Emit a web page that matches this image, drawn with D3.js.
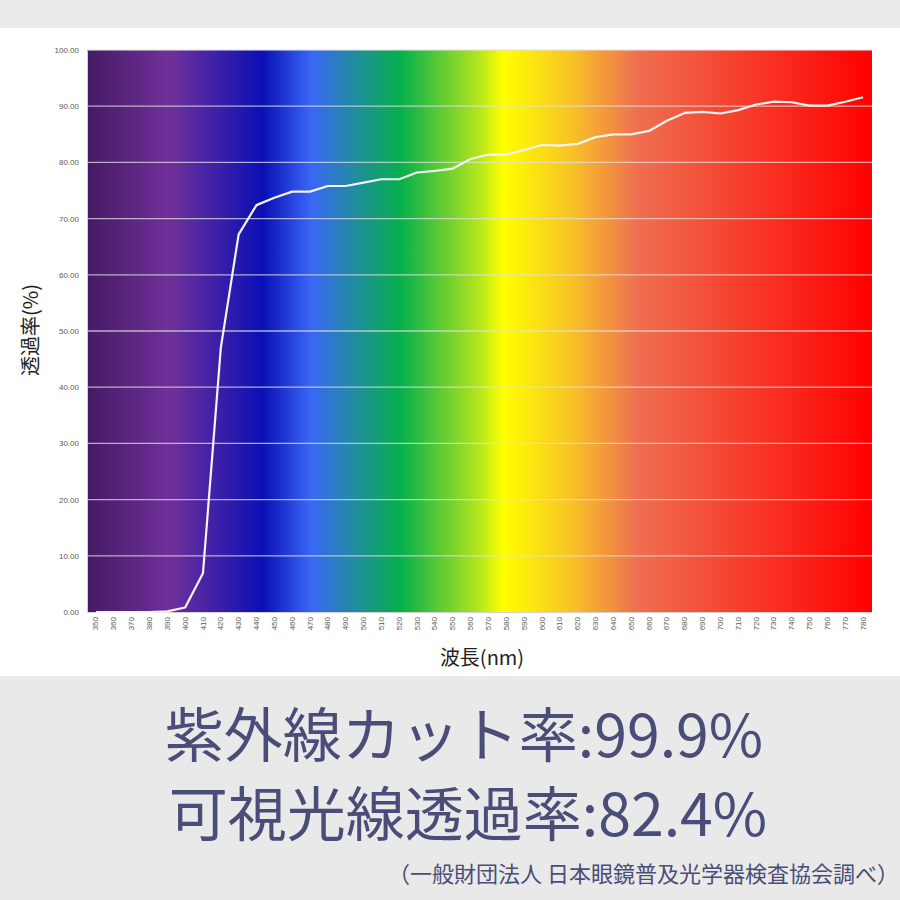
<!DOCTYPE html>
<html><head><meta charset="utf-8">
<script src="https://cdn.jsdelivr.net/npm/d3@7"></script>
<style>
html,body{margin:0;padding:0;background:#fff;}
svg{display:block;font-family:"Noto Sans CJK JP","Noto Sans",sans-serif;}
</style></head>
<body><svg id="c" width="900" height="900"></svg>
<script>
const wavelengths = [350,360,370,380,390,400,410,420,430,440,450,460,470,480,490,500,510,520,530,540,550,560,570,580,590,600,610,620,630,640,650,660,670,680,690,700,710,720,730,740,750,760,770,780];
const transmittance = [0,0,0,0,0.1,0.8,6.9,47.0,67.2,72.4,73.7,74.8,74.8,75.8,75.8,76.4,77.0,77.0,78.2,78.5,78.9,80.6,81.4,81.4,82.2,83.1,83.0,83.3,84.5,85.0,85.0,85.6,87.4,88.8,89.0,88.7,89.3,90.3,90.8,90.7,90.1,90.1,90.8,91.6];
const yTicks = [0,10,20,30,40,50,60,70,80,90,100];
const spectrumStops = [
  {pos:0.000,color:"#451a64"},
  {pos:0.106,color:"#70309a"},
  {pos:0.224,color:"#0a0fb5"},
  {pos:0.285,color:"#3a66f5"},
  {pos:0.344,color:"#1f8e9a"},
  {pos:0.400,color:"#06b04b"},
  {pos:0.500,color:"#b5e61d"},
  {pos:0.530,color:"#ffff00"},
  {pos:0.615,color:"#f8c525"},
  {pos:0.700,color:"#ef7050"},
  {pos:1.000,color:"#ff0000"}
];
const texts = {
  yTitle:"透過率(%)", xTitle:"波長(nm)",
  line1:"紫外線カット率:99.9%", line2:"可視光線透過率:82.4%",
  note:"（一般財団法人 日本眼鏡普及光学器検査協会調べ）"
};

const svg = d3.select("#c");
svg.append("rect").attr("x",0).attr("y",0).attr("width",900).attr("height",28).attr("fill","#ebebeb");
svg.append("rect").attr("x",0).attr("y",676).attr("width",900).attr("height",224).attr("fill","#e9e9e9");

const L=87,R=872,T=50,B=612;
const x = d3.scaleBand().domain(wavelengths).range([L,R]);
const y = d3.scaleLinear().domain([0,100]).range([B,T]);

const defs = svg.append("defs");
const grad = defs.append("linearGradient").attr("id","spec").attr("x1","0").attr("x2","1").attr("y1","0").attr("y2","0");
spectrumStops.forEach(s=>grad.append("stop").attr("offset",s.pos).attr("stop-color",s.color));
svg.append("rect").attr("x",L).attr("y",T).attr("width",R-L).attr("height",B-T).attr("fill","url(#spec)");

svg.append("g").selectAll("line").data(yTicks.filter(d=>d>0)).join("line")
  .attr("x1",L).attr("x2",R).attr("y1",d=>y(d)).attr("y2",d=>y(d))
  .attr("stroke","#e0e0e0").attr("stroke-opacity",0.75).attr("stroke-width",1.3);

const ya = svg.append("g").attr("transform",`translate(${L},0)`)
  .call(d3.axisLeft(y).tickValues(yTicks).tickFormat(d=>d.toFixed(2)).tickSize(0).tickPadding(8));
ya.select(".domain").attr("stroke","#d0d0d0");
ya.selectAll("text").attr("font-size",8).attr("fill","#595959").attr("font-family","Liberation Sans, sans-serif");

const xa = svg.append("g").attr("transform",`translate(0,${B})`)
  .call(d3.axisBottom(x).tickSize(0).tickPadding(0));
xa.select(".domain").attr("stroke","#d0d0d0");
xa.selectAll("text").attr("font-size",8).attr("fill","#595959").attr("font-family","Liberation Sans, sans-serif")
  .attr("transform","rotate(-90)").attr("text-anchor","end").attr("dy","0.32em").attr("x",-5).attr("y",0);

const line = d3.line().x((d,i)=>x(wavelengths[i])+x.bandwidth()/2).y(d=>y(d));
svg.append("path").datum(transmittance).attr("d",line).attr("fill","none")
  .attr("stroke","#f4f4f4").attr("stroke-width",2.2).attr("stroke-linejoin","round");

svg.append("text").attr("transform","translate(38,330) rotate(-90)").attr("text-anchor","middle")
  .attr("font-size",20).attr("fill","#222").text(texts.yTitle);
svg.append("text").attr("x",482).attr("y",665).attr("text-anchor","middle")
  .attr("font-size",20).attr("fill","#222").text(texts.xTitle);

svg.append("text").attr("x",464).attr("y",757).attr("text-anchor","middle")
  .attr("font-size",59).attr("fill","#4a4d78").text(texts.line1);
svg.append("text").attr("x",468).attr("y",836).attr("text-anchor","middle")
  .attr("font-size",59).attr("fill","#4a4d78").text(texts.line2);
svg.append("text").attr("x",899).attr("y",882).attr("text-anchor","end")
  .attr("font-size",22).attr("fill","#4a4d78").text(texts.note);
</script></body></html>
